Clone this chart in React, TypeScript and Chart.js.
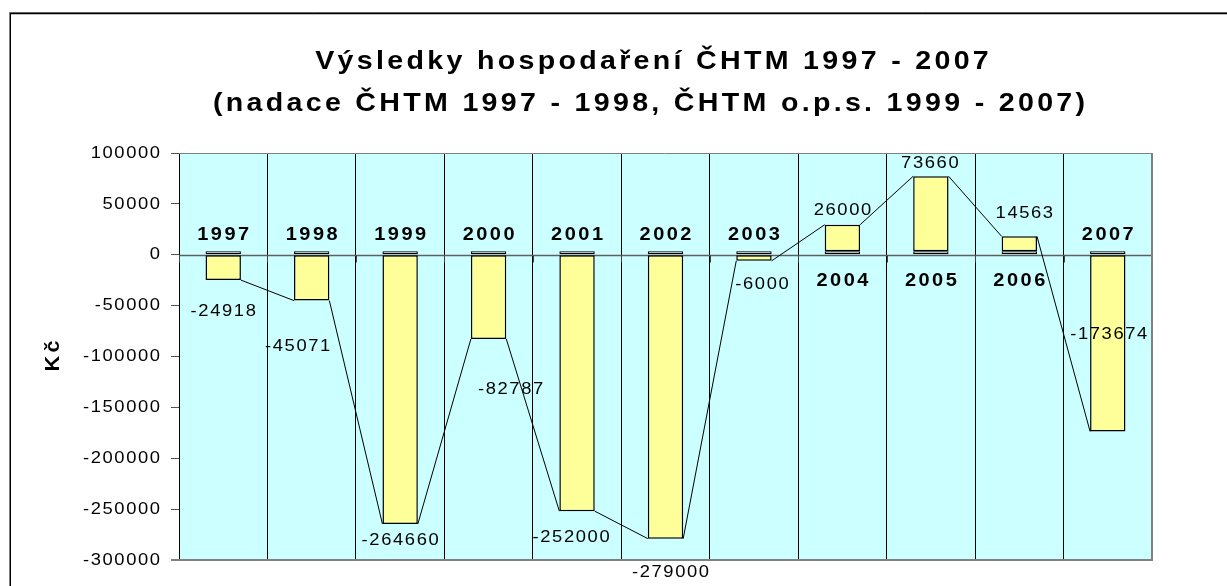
import React, { useEffect, useRef } from 'react';
import { Chart, registerables } from 'chart.js';

Chart.register(...registerables);

// ---------- data ----------
const years = ['1997', '1998', '1999', '2000', '2001', '2002', '2003', '2004', '2005', '2006', '2007'];
const results = [-24918, -45071, -264660, -82787, -252000, -279000, -6000, 26000, 73660, 14563, -173674];
const labelBase = [3500, 3500, 3500, 3500, 3500, 3500, 3500, 3500, 3500, 3500, 3500];
const yMin = -300000;
const yMax = 100000;
const yStep = 50000;
const titleLines = ['Výsledky hospodaření ČHTM 1997 - 2007', '(nadace ČHTM 1997 - 1998, ČHTM o.p.s. 1999 - 2007)'];
const yAxisTitle = 'Kč';

// ---------- label placement (pixel offsets from bar end, styling only) ----------
const valueLabelOffsets: [number, number][] = [
  [0, 31], [-14, 46], [0, 16], [22, 50], [-6, 26], [5, 34], [8, 23], [0, -14], [-1, -13], [5, -23], [1, -97],
];

const FONT = '"Liberation Sans", Arial, Helvetica, sans-serif';

function drawText(
  ctx: CanvasRenderingContext2D,
  text: string,
  x: number,
  y: number,
  font: string,
  sx: number,
  spacing: number,
  align: 'left' | 'center' | 'right' = 'center',
  baseline: CanvasTextBaseline = 'middle'
) {
  ctx.save();
  ctx.font = font;
  (ctx as any).letterSpacing = '0px';
  ctx.textAlign = 'left';
  ctx.textBaseline = baseline;
  ctx.fillStyle = '#000';
  const chars = Array.from(text).length;
  const w = ctx.measureText(text).width + spacing * (chars - 1);
  (ctx as any).letterSpacing = spacing + 'px';
  ctx.translate(x, y);
  ctx.scale(sx, 1);
  const start = align === 'center' ? -w / 2 : align === 'right' ? -w : 0;
  ctx.fillText(text, start, 0);
  ctx.restore();
}

const decorPlugin = {
  id: 'excelDecor',
  beforeDraw(chart: any) {
    const { ctx, chartArea } = chart;
    ctx.save();
    ctx.fillStyle = '#CCFFFF';
    ctx.fillRect(chartArea.left, chartArea.top, chartArea.right - chartArea.left, chartArea.bottom - chartArea.top);
    ctx.restore();
  },
  beforeDatasetsDraw(chart: any) {
    const { ctx, chartArea, scales } = chart;
    const y0 = Math.round(scales.y.getPixelForValue(0)) + 0.5;
    ctx.save();
    ctx.strokeStyle = '#606060';
    ctx.lineWidth = 1.5;
    ctx.beginPath();
    ctx.moveTo(chartArea.left, y0);
    ctx.lineTo(chartArea.right, y0);
    ctx.stroke();
    ctx.lineWidth = 1;
    ctx.strokeStyle = '#404040';
    const n = years.length;
    for (let i = 0; i <= n; i++) {
      const x = Math.round(chartArea.left + ((chartArea.right - chartArea.left) * i) / n) + 0.5;
      ctx.beginPath();
      ctx.moveTo(x, y0);
      ctx.lineTo(x, y0 + 7);
      ctx.stroke();
    }
    ctx.restore();
  },
  afterDatasetsDraw(chart: any) {
    const { ctx, chartArea } = chart;
    const els = chart.getDatasetMeta(1).data;
    ctx.save();
    ctx.strokeStyle = '#000';
    ctx.lineWidth = 1;
    ctx.beginPath();
    for (let i = 0; i < els.length - 1; i++) {
      const a = els[i];
      const b = els[i + 1];
      ctx.moveTo(a.x + a.width / 2, a.y);
      ctx.lineTo(b.x - b.width / 2, b.y);
    }
    ctx.stroke();

    ctx.strokeStyle = '#808080';
    ctx.lineWidth = 1;
    ctx.beginPath();
    ctx.moveTo(chartArea.left, chartArea.top + 0.5);
    ctx.lineTo(chartArea.right, chartArea.top + 0.5);
    ctx.stroke();
    ctx.lineWidth = 2;
    ctx.beginPath();
    ctx.moveTo(chartArea.right, chartArea.top);
    ctx.lineTo(chartArea.right, chartArea.bottom);
    ctx.moveTo(chartArea.left - 8, chartArea.bottom);
    ctx.lineTo(chartArea.right + 1, chartArea.bottom);
    ctx.stroke();
    ctx.restore();
  },
  afterDraw(chart: any) {
    const { ctx, scales } = chart;
    const els = chart.getDatasetMeta(1).data;
    const yScale = scales.y;
    const y0 = yScale.getPixelForValue(0);

    // y tick labels
    for (const t of yScale.ticks) {
      drawText(ctx, String(t.value), 160, yScale.getPixelForValue(t.value), '17px ' + FONT, 1.08, 1.5, 'right');
    }
    // year labels
    for (let i = 0; i < els.length; i++) {
      const el = els[i];
      const neg = results[i] < 0;
      drawText(ctx, years[i], el.x, neg ? y0 - 20 : y0 + 26, 'bold 18.5px ' + FONT, 1.08, 2.3);
    }
    // value labels
    for (let i = 0; i < els.length; i++) {
      const el = els[i];
      const [dx, dy] = valueLabelOffsets[i];
      drawText(ctx, String(results[i]), el.x + dx, el.y + dy, '17px ' + FONT, 1.08, 1.5);
    }
    // title
    drawText(ctx, titleLines[0], 652, 62, 'bold 26px ' + FONT, 1.1, 3);
    drawText(ctx, titleLines[1], 649, 103.5, 'bold 26px ' + FONT, 1.1, 3);

    // y axis title (rotated)
    ctx.save();
    ctx.translate(59, 356);
    ctx.rotate(-Math.PI / 2);
    drawText(ctx, yAxisTitle, 0, 0, 'bold 20px ' + FONT, 1.08, 3, 'center', 'alphabetic');
    ctx.restore();

    // outer chart frame
    ctx.save();
    ctx.lineWidth = 1;
    ctx.strokeStyle = '#808080';
    ctx.beginPath();
    ctx.moveTo(9, 12.5);
    ctx.lineTo(1227, 12.5);
    ctx.stroke();
    ctx.strokeStyle = '#000';
    ctx.lineWidth = 1.5;
    ctx.beginPath();
    ctx.moveTo(10.25, 13.5);
    ctx.lineTo(1227, 13.5);
    ctx.moveTo(10.25, 13);
    ctx.lineTo(10.25, 586);
    ctx.stroke();
    ctx.restore();
  },
};

export default function App() {
  const canvasRef = useRef<HTMLCanvasElement | null>(null);

  useEffect(() => {
    const canvas = canvasRef.current;
    if (!canvas) return;
    const chart = new Chart(canvas, {
      type: 'bar',
      data: {
        labels: years,
        datasets: [
          {
            label: 'rok',
            data: labelBase,
            backgroundColor: '#FFFFFF',
            borderColor: '#000000',
            borderWidth: 1.25,
            borderSkipped: false,
            stack: 's',
          },
          {
            label: 'Výsledek',
            data: results,
            backgroundColor: '#FFFF99',
            borderColor: '#000000',
            borderWidth: 1.5,
            borderSkipped: false,
            stack: 's',
          },
        ],
      },
      options: {
        animation: false,
        responsive: false,
        maintainAspectRatio: false,
        devicePixelRatio: 1,
        layout: { padding: { top: 153, right: 75, bottom: 26, left: 0 } },
        plugins: {
          legend: { display: false },
          title: { display: false },
          tooltip: { enabled: false },
        },
        datasets: {
          bar: { categoryPercentage: 1, barPercentage: 0.4 },
        },
        scales: {
          x: {
            type: 'category',
            stacked: true,
            offset: true,
            grid: { offset: true, color: '#000000', lineWidth: 1, drawTicks: false },
            ticks: { display: false },
            border: { display: false },
            afterFit: (scale: any) => {
              scale.height = 0;
            },
          },
          y: {
            type: 'linear',
            stacked: true,
            min: yMin,
            max: yMax,
            ticks: {
              stepSize: yStep,
              padding: 9,
              color: 'rgba(0,0,0,0)',
              font: { family: FONT, size: 17 },
              callback: (v: any) => String(v),
            },
            grid: { drawOnChartArea: false, drawTicks: true, tickLength: 8, color: '#505050' },
            border: { display: true, color: '#000000', width: 1 },
            afterFit: (scale: any) => {
              scale.width = 179;
            },
          },
        },
      },
      plugins: [decorPlugin],
    });
    return () => chart.destroy();
  }, []);

  return (
    <div style={{ position: 'fixed', left: 0, top: 0, width: 1227, height: 586, background: '#fff' }}>
      <canvas ref={canvasRef} width={1227} height={586} style={{ width: 1227, height: 586, display: 'block' }} />
    </div>
  );
}
